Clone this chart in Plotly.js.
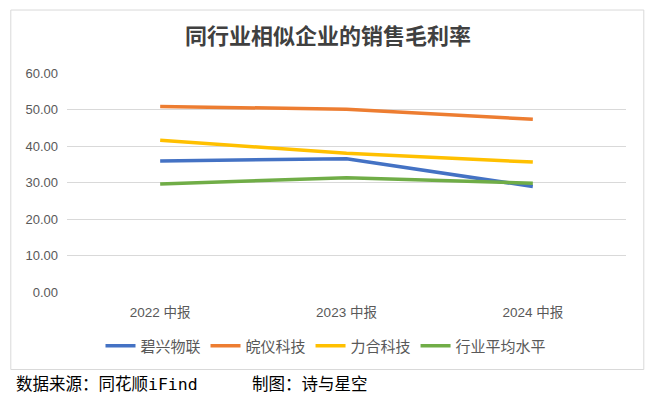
<!DOCTYPE html>
<html>
<head>
<meta charset="utf-8">
<script src="https://cdn.plot.ly/plotly-3.0.1.min.js"></script>
<style>
html,body{margin:0;padding:0;background:#fff;}
#chart{width:657px;height:399px;}
</style>
</head>
<body>
<div id="chart"></div>
<script>
const categories = ["2022 中报", "2023 中报", "2024 中报"];
const seriesNames = ["碧兴物联", "皖仪科技", "力合科技", "行业平均水平"];
const bixing = [35.9, 36.5, 28.9];
const wanyi = [50.8, 50.1, 47.3];
const lihe = [41.6, 38.0, 35.6];
const industryAvg = [29.6, 31.3, 29.8];
const yTicks = [0, 10, 20, 30, 40, 50, 60];
const yTickLabels = ["0.00", "10.00", "20.00", "30.00", "40.00", "50.00", "60.00"];

const colors = ["#4472C4", "#ED7D31", "#FFC000", "#70AD47"];
const values = [bixing, wanyi, lihe, industryAvg];
const fontFam = "Liberation Sans, Noto Sans CJK SC, sans-serif";

const traces = values.map((v, i) => ({
  type: "scatter",
  mode: "lines",
  x: categories,
  y: v,
  name: seriesNames[i],
  line: {color: colors[i], width: 3.5},
  hoverinfo: "skip"
}));

// plot area in px
const L = 66.7, R = 625.7, T = 73.3, B = 291.7;
const W = 657, H = 399;
const px2x = p => (p - L) / (R - L);
const py2y = p => (B - p) / (B - T);

const layout = {
  width: W, height: H,
  margin: {l: L, r: W - R, t: T, b: H - B, pad: 0},
  paper_bgcolor: "#ffffff",
  plot_bgcolor: "#ffffff",
  font: {family: fontFam, color: "#595959"},
  title: {
    text: "同行业相似企业的销售毛利率",
    font: {family: "Noto Sans CJK SC, sans-serif", size: 22, color: "#404040", weight: "bold"},
    x: 328 / W, xanchor: "center", xref: "container",
    y: 1 - 36 / H, yanchor: "middle", yref: "container"
  },
  xaxis: {
    type: "category",
    range: [-0.5, 2.5],
    showgrid: false,
    zeroline: false,
    showline: false,
    ticks: "",
    tickfont: {size: 13.5, color: "#595959", family: fontFam},
    ticklabelstandoff: 10,
    fixedrange: true
  },
  yaxis: {
    range: [0, 60],
    tickvals: yTicks,
    ticktext: yTickLabels,
    showgrid: true,
    gridcolor: "#d9d9d9",
    gridwidth: 1,
    zeroline: false,
    showline: false,
    ticks: "",
    tickfont: {size: 13, color: "#595959", family: fontFam},
    ticklabelstandoff: 8,
    fixedrange: true
  },
  showlegend: true,
  legend: {
    orientation: "h",
    xref: "container", yref: "container",
    x: 326 / W, xanchor: "center",
    y: 1 - 346 / H, yanchor: "middle",
    font: {size: 15, color: "#595959", family: fontFam},
    bgcolor: "rgba(0,0,0,0)",
    itemclick: false, itemdoubleclick: false,
    tracegroupgap: 0
  },
  shapes: [{
    type: "rect", xref: "paper", yref: "paper",
    x0: px2x(10.5), x1: px2x(643.5), y0: py2y(369), y1: py2y(10.5),
    line: {color: "#d9d9d9", width: 1}, fillcolor: "rgba(0,0,0,0)", layer: "below"
  }],
  annotations: [
    {
      text: "数据来源：同花顺iFind", xref: "paper", yref: "paper",
      x: px2x(14), y: py2y(384), xanchor: "left", yanchor: "middle", showarrow: false,
      font: {family: "DejaVu Sans Mono, Noto Sans CJK SC, monospace", size: 16.5, color: "#000000"}
    },
    {
      text: "制图：诗与星空", xref: "paper", yref: "paper",
      x: px2x(250), y: py2y(384), xanchor: "left", yanchor: "middle", showarrow: false,
      font: {family: "DejaVu Sans Mono, Noto Sans CJK SC, monospace", size: 16.5, color: "#000000"}
    }
  ]
};

Plotly.newPlot("chart", traces, layout, {staticPlot: true, displayModeBar: false});
</script>
</body>
</html>
